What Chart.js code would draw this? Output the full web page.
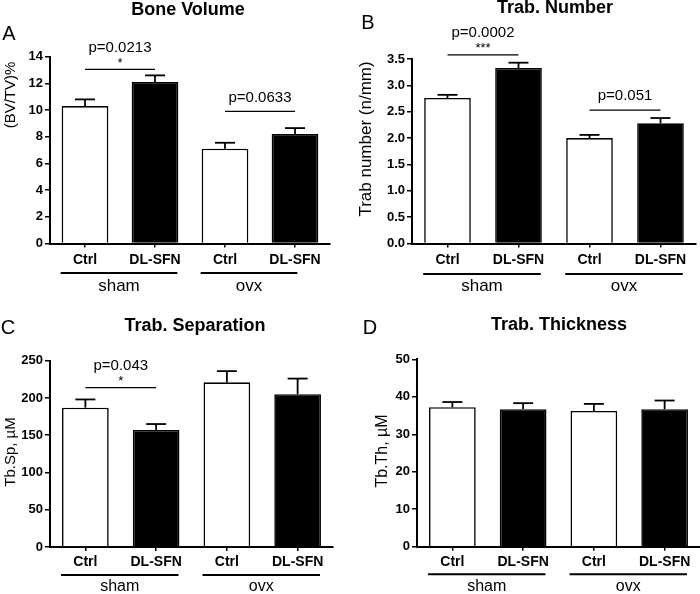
<!DOCTYPE html>
<html><head><meta charset="utf-8">
<script src="https://cdn.jsdelivr.net/npm/chart.js@4.4.1/dist/chart.umd.min.js"></script>
<style>
body{margin:0;background:#fff;width:700px;height:594px;position:relative;overflow:hidden}
canvas{position:absolute}
</style>
</head><body>
<canvas id="cA" width="350" height="297" style="left:0;top:0"></canvas>
<canvas id="cB" width="350" height="297" style="left:350px;top:0"></canvas>
<canvas id="cC" width="350" height="297" style="left:0;top:297px"></canvas>
<canvas id="cD" width="350" height="297" style="left:350px;top:297px"></canvas>
<script>
// ---------- data ----------
const categories = ['Ctrl', 'DL-SFN', 'Ctrl', 'DL-SFN'];
const groups = ['sham', 'ovx'];
const barColors = ['#ffffff', '#000000', '#ffffff', '#000000'];

const boneVolume = [10.3, 12.1, 7.1, 8.2];
const boneVolumeSem = [0.5, 0.5, 0.45, 0.45];
const trabNumber = [2.76, 3.33, 2.0, 2.28];
const trabNumberSem = [0.06, 0.1, 0.06, 0.1];
const trabSeparation = [187, 157, 221, 205];
const trabSeparationSem = [11, 8, 15, 21];
const trabThickness = [37.2, 36.7, 36.2, 36.7];
const trabThicknessSem = [1.4, 1.6, 1.9, 2.3];

const yTicksA = [0, 2, 4, 6, 8, 10, 12, 14];
const yTicksB = [0, 0.5, 1.0, 1.5, 2.0, 2.5, 3.0, 3.5];
const yTicksC = [0, 50, 100, 150, 200, 250];
const yTicksD = [0, 10, 20, 30, 40, 50];

// significance annotations: [fromIndex, toIndex, bracketValue, pText, stars]
const signifA = [[0, 1, 13.05, 'p=0.0213', '*'], [2, 3, 9.9, 'p=0.0633', '']];
const signifB = [[0, 1, 3.58, 'p=0.0002', '***'], [2, 3, 2.53, 'p=0.051', '']];
const signifC = [[0, 1, 214, 'p=0.043', '*']];
const signifD = [];

// ---------- drawing ----------
const FONT = "'Liberation Sans', Arial, Helvetica, sans-serif";

function makePanel(id, o) {
  const H = 297;
  const annot = {
    id: 'annot',
    afterDraw(chart) {
      const ctx = chart.ctx, ys = chart.scales.y, meta = chart.getDatasetMeta(0);
      const ca = chart.chartArea;
      ctx.save();
      ctx.strokeStyle = '#000'; ctx.fillStyle = '#000';
      const line = (x1, y1, x2, y2, w) => { ctx.lineWidth = w; ctx.beginPath(); ctx.moveTo(x1, y1); ctx.lineTo(x2, y2); ctx.stroke(); };
      // error bars (upper only)
      o.values.forEach((v, i) => {
        const x = meta.data[i].x;
        const y0 = ys.getPixelForValue(v), y1 = ys.getPixelForValue(v + o.sem[i]);
        line(x, y0, x, y1, 1.8);
        line(x - 10, y1, x + 10, y1, 1.8);
      });
      // significance brackets
      ctx.textAlign = 'center'; ctx.textBaseline = 'middle';
      o.signif.forEach(s => {
        const x1 = meta.data[s[0]].x, x2 = meta.data[s[1]].x;
        const y = ys.getPixelForValue(s[2]);
        line(x1, y, x2, y, 1.3);
        const xc = (x1 + x2) / 2;
        ctx.font = '15px ' + FONT;
        ctx.fillText(s[3], xc, y - (s[4] ? 22 : 14));
        if (s[4]) { ctx.font = '13px ' + FONT; ctx.fillText(s[4], xc, y - 6); }
      });
      // group underlines and labels
      groups.forEach((g, gi) => {
        const b0 = meta.data[gi * 2], b1 = meta.data[gi * 2 + 1];
        const xl = b0.x - b0.width / 2 - 1, xr = b1.x + b1.width / 2 - 1 - o.groupTrim[gi];
        const yl = ca.bottom + o.groupLineDy;
        line(xl, yl, xr, yl, 2);
        ctx.font = o.groupFont + 'px ' + FONT;
        ctx.fillText(g, (xl + xr) / 2, ca.bottom + o.groupLabelDy);
      });
      // title
      ctx.font = 'bold 18px ' + FONT;
      ctx.fillText(o.title, o.titlePos[0], o.titlePos[1]);
      // panel letter
      ctx.font = '20px ' + FONT;
      ctx.fillText(o.letter, o.letterPos[0], o.letterPos[1]);
      // y title
      ctx.save();
      ctx.translate(o.yTitlePos[0], o.yTitlePos[1]);
      ctx.rotate(-Math.PI / 2);
      ctx.font = o.yTitleFont + 'px ' + FONT;
      ctx.fillText(o.yTitle, 0, 0);
      ctx.restore();
      ctx.restore();
    }
  };
  return new Chart(document.getElementById(id), {
    type: 'bar',
    data: {
      labels: categories,
      datasets: [{
        data: o.values,
        backgroundColor: barColors,
        borderColor: '#000',
        borderWidth: 1.6,
        barPercentage: o.barPct,
        categoryPercentage: 1
      }]
    },
    options: {
      responsive: false,
      animation: false,
      devicePixelRatio: 1,
      layout: { padding: { top: o.top, right: 350 - o.right, left: 0, bottom: 0 } },
      plugins: { legend: { display: false }, tooltip: { enabled: false }, title: { display: false } },
      scales: {
        x: {
          grid: { drawOnChartArea: false, drawTicks: true, tickLength: 4, offset: false, color: '#000', lineWidth: 1.5 },
          border: { color: '#000', width: 2 },
          ticks: { color: '#000', font: { family: FONT, size: 14, weight: 'bold' }, padding: o.xPad, maxRotation: 0, autoSkip: false },
          afterFit: s => { s.height = H - o.bottom; s.paddingLeft = 0; s.paddingRight = 0; }
        },
        y: {
          min: o.yTicks[0], max: o.yTicks[o.yTicks.length - 1],
          afterBuildTicks: s => { s.ticks = o.yTicks.map(v => ({ value: v })); },
          grid: { drawOnChartArea: false, drawTicks: true, tickLength: 5, color: '#000', lineWidth: 1.5 },
          border: { color: '#000', width: 2 },
          ticks: { color: '#000', font: { family: FONT, size: 13, weight: 'bold' }, padding: 2,
                   callback: v => v.toFixed(o.decimals) },
          afterFit: s => { s.width = o.left; s.paddingTop = 0; s.paddingBottom = 0; }
        }
      }
    },
    plugins: [annot]
  });
}

makePanel('cA', {
  values: boneVolume, sem: boneVolumeSem, yTicks: yTicksA, decimals: 0, signif: signifA,
  left: 50, right: 330, top: 56.7, bottom: 243.5, barPct: 0.667, xPad: 4,
  groupLineDy: 29.5, groupLabelDy: 43, groupFont: 17, groupTrim: [0, 20],
  title: 'Bone Volume', titlePos: [188, 10], letter: 'A', letterPos: [9, 34],
  yTitle: '(BV/TV)%', yTitlePos: [11, 95], yTitleFont: 15
});
makePanel('cB', {
  values: trabNumber, sem: trabNumberSem, yTicks: yTicksB, decimals: 1, signif: signifB,
  left: 62, right: 346, top: 59, bottom: 243.5, barPct: 0.657, xPad: 4,
  groupLineDy: 30.5, groupLabelDy: 43, groupFont: 17, groupTrim: [0, 0],
  title: 'Trab. Number', titlePos: [205, 8], letter: 'B', letterPos: [18, 23],
  yTitle: 'Trab number (n/mm)', yTitlePos: [16, 139], yTitleFont: 17
});
makePanel('cC', {
  values: trabSeparation, sem: trabSeparationSem, yTicks: yTicksC, decimals: 0, signif: signifC,
  left: 50, right: 333, top: 63.7, bottom: 250, barPct: 0.66, xPad: 3,
  groupLineDy: 28, groupLabelDy: 40, groupFont: 16, groupTrim: [0, 0],
  title: 'Trab. Separation', titlePos: [195, 29], letter: 'C', letterPos: [8, 31],
  yTitle: 'Tb.Sp, \u00b5M', yTitlePos: [11, 155], yTitleFont: 15
});
makePanel('cD', {
  values: trabThickness, sem: trabThicknessSem, yTicks: yTicksD, decimals: 0, signif: signifD,
  left: 67, right: 350, top: 62.3, bottom: 249.7, barPct: 0.66, xPad: 3,
  groupLineDy: 27.5, groupLabelDy: 40, groupFont: 16, groupTrim: [0, 0],
  title: 'Trab. Thickness', titlePos: [209, 28], letter: 'D', letterPos: [20, 31],
  yTitle: 'Tb.Th, \u00b5M', yTitlePos: [33, 154], yTitleFont: 16
});
</script>
</body></html>
